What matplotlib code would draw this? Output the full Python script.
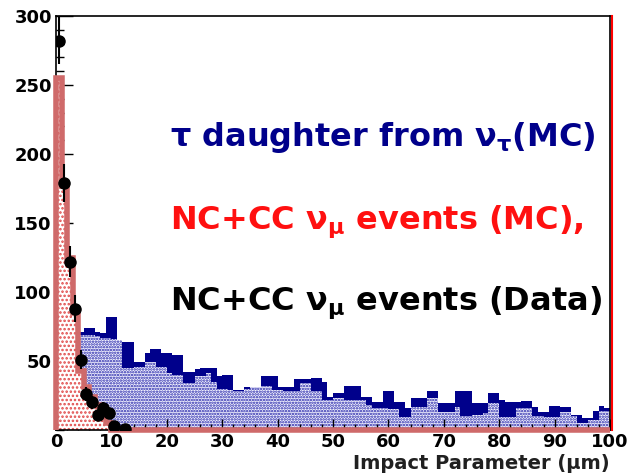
import numpy as np
import matplotlib
matplotlib.use("Agg")
import matplotlib.pyplot as plt
from matplotlib.ticker import MultipleLocator

# 1 um bins from 0 to 100
edges = np.arange(0, 101, 1)

# tau daughter from nu_tau (MC): solid navy histogram
tau_upper = [0, 0, 0, 0, 71, 74, 74, 71, 70, 82,
             82, 65, 64, 64, 49, 49, 56, 59, 59, 56,
             56, 54, 54, 42, 42, 44, 45, 45, 45, 39,
             40, 40, 29, 29, 31, 31, 31, 39, 39, 39,
             31, 31, 31, 37, 37, 37, 38, 38, 35, 24,
             27, 27, 32, 32, 32, 24, 24, 20, 20, 28,
             28, 20, 20, 16, 23, 23, 23, 28, 28, 19.5,
             19.5, 19.5, 28, 28, 28, 19.5, 19.5, 19.5, 27, 27,
             22, 20, 20, 20, 21, 21, 17, 13, 13, 17.5,
             17.5, 17, 17, 11, 11, 8.7, 8.7, 14, 17.5, 16]

# dotted blue histogram in front of it
tau_lower = [0, 0, 0, 0, 69, 69, 69, 68, 67, 67,
             66, 65, 45, 45, 46, 46, 49, 49, 46, 46,
             41, 40, 40, 34, 34, 39, 39, 41, 35, 30,
             30, 29, 28, 28, 30, 31, 31, 32, 32, 29,
             29, 28, 28, 28, 34, 34, 28, 28, 22, 22,
             23, 23, 22, 22, 22, 22, 18, 16, 16, 16,
             15, 15, 9.5, 9.5, 17, 17, 17, 23, 23, 13,
             13, 13, 17, 10, 10, 10.8, 10.8, 12, 19.5, 19.5,
             9.5, 9.5, 9.5, 16, 16, 16, 10, 10, 9.5, 9.5,
             9.5, 13, 13, 10, 5, 5, 7, 7, 14, 14]

# NC+CC nu_mu events (MC)
numu_mc = [255, 177, 125, 85, 43, 31, 24, 18, 12, 5] + [0] * 90

# NC+CC nu_mu events (Data)
data_x = [0.5, 1.5, 2.5, 3.5, 4.5, 5.5, 6.5, 7.5, 8.5, 9.5, 10.5, 12.5]
data_y = [282, 179, 122, 88, 51, 26, 20, 11, 16, 12, 3, 1]
data_err = [17, 13.5, 11, 9.5, 7, 5, 4.5, 3.3, 4, 3.5, 1.7, 1]

y_ticks = [50, 100, 150, 200, 250, 300]
x_ticks = [0, 10, 20, 30, 40, 50, 60, 70, 80, 90, 100]

plt.rcParams['mathtext.fontset'] = 'custom'
plt.rcParams['mathtext.rm'] = 'DejaVu Sans:bold'
plt.rcParams['mathtext.it'] = 'DejaVu Sans:bold'
plt.rcParams['mathtext.bf'] = 'DejaVu Sans:bold'
plt.rcParams['mathtext.default'] = 'rm'
plt.rcParams['hatch.linewidth'] = 1.2

fig = plt.figure(figsize=(6.32, 4.74), dpi=100)
ax = fig.add_axes([56 / 632, 44 / 474, 554 / 632, 414 / 474])

navy = '#00008b'
dot_blue = '#2222a8'
rose = '#cf6a6a'

ax.stairs(tau_upper, edges, fill=True, color=navy, lw=0, zorder=1)
ax.stairs(tau_lower, edges, fill=True, facecolor='#f4f4ff', edgecolor=dot_blue,
          hatch='......', lw=0, zorder=1.5)
ax.stairs(numu_mc, edges, fill=True, facecolor='white', edgecolor='#e04848',
          hatch='....', lw=0, zorder=2)
ax.stairs(numu_mc, edges, color=rose, lw=4, zorder=3, clip_on=False)

ax.errorbar(data_x, data_y, yerr=data_err, fmt='o', color='black', ms=8,
            elinewidth=1.5, capsize=0, zorder=5)

ax.axvline(100.35, color='red', lw=1.5, zorder=4, clip_on=False)

ax.set_xlim(0, 100)
ax.set_ylim(0, 300)
ax.set_xticks(x_ticks)
ax.set_yticks(y_ticks)
ax.xaxis.set_minor_locator(MultipleLocator(2))
ax.yaxis.set_minor_locator(MultipleLocator(10))
ax.tick_params(axis='both', which='both', direction='in', width=1, color='black',
               labelsize=13)
ax.tick_params(axis='x', which='major', length=8, pad=2)
ax.tick_params(axis='x', which='minor', length=4)
ax.tick_params(axis='y', which='major', length=12, pad=3)
ax.tick_params(axis='y', which='minor', length=6)
for lab in ax.get_xticklabels() + ax.get_yticklabels():
    lab.set_fontweight('bold')
for s in ax.spines.values():
    s.set_linewidth(1.2)

ax.text(1.0, -0.08, 'Impact Parameter (\u03bcm)', transform=ax.transAxes,
        ha='right', va='center', fontsize=14, fontweight='bold', color='#202020')

ax.text(20.6, 212, r'$\tau$ daughter from $\nu_\tau$(MC)', color=navy,
        fontsize=23, fontweight='bold', va='center', ha='left')
ax.text(20.6, 151, r'NC+CC $\nu_\mu$ events (MC),', color='#ff1010',
        fontsize=23, fontweight='bold', va='center', ha='left')
ax.text(20.6, 92, r'NC+CC $\nu_\mu$ events (Data)', color='black',
        fontsize=23, fontweight='bold', va='center', ha='left')

fig.savefig('out.png', dpi=100)
